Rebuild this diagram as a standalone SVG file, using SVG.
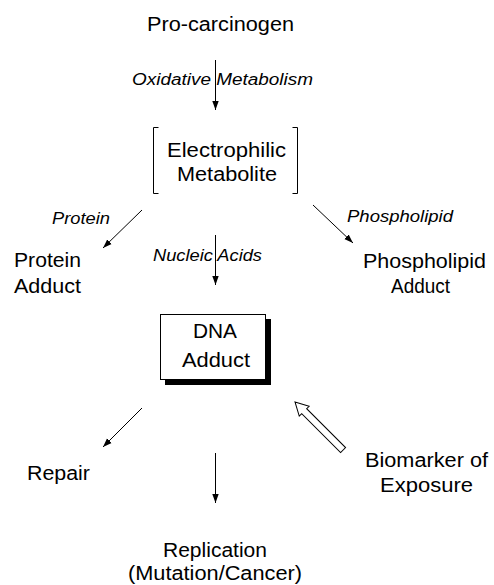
<svg xmlns="http://www.w3.org/2000/svg" width="494" height="585" viewBox="0 0 494 585">
<defs>
<marker id="ah" markerWidth="10" markerHeight="8" refX="9" refY="4" orient="auto" markerUnits="userSpaceOnUse">
<path d="M0,0.8 L9,4 L0,7.2 Z" fill="#000"/>
</marker>
<style>
text{font-family:"Liberation Sans",Arial,Helvetica,sans-serif;fill:#000}
.n{font-size:19.5px}
.l{font-size:16px;font-style:italic}
.c{stroke:#000;stroke-width:1;fill:none;marker-end:url(#ah)}
</style>
</defs>
<rect width="494" height="585" fill="#fff"/>
<g id="procarcinogen"><text class="n" x="147" y="31" textLength="147" lengthAdjust="spacingAndGlyphs">Pro-carcinogen</text></g>
<g id="electrophilic">
<path d="M158.5,127.5 H153.5 V193.5 H158.5 M292.5,127.5 H297.5 V193.5 H292.5" stroke="#000" stroke-width="1" fill="none"/>
<text class="n" x="167" y="157" textLength="119" lengthAdjust="spacingAndGlyphs">Electrophilic</text>
<text class="n" x="177" y="181" textLength="100" lengthAdjust="spacingAndGlyphs">Metabolite</text>
</g>
<g id="protein-adduct">
<text class="n" x="14" y="267" textLength="67" lengthAdjust="spacingAndGlyphs">Protein</text>
<text class="n" x="14" y="293" textLength="67" lengthAdjust="spacingAndGlyphs">Adduct</text>
</g>
<g id="phospholipid-adduct">
<text class="n" x="363" y="268" textLength="123" lengthAdjust="spacingAndGlyphs">Phospholipid</text>
<text class="n" x="391" y="293" textLength="59" lengthAdjust="spacingAndGlyphs">Adduct</text>
</g>
<g id="dna-adduct">
<rect x="165" y="319" width="106" height="66" fill="#000"/>
<rect x="160.5" y="314.5" width="105" height="65" fill="#fff" stroke="#000" stroke-width="1"/>
<text class="n" x="193" y="338" textLength="44" lengthAdjust="spacingAndGlyphs">DNA</text>
<text class="n" x="182" y="367" textLength="68" lengthAdjust="spacingAndGlyphs">Adduct</text>
</g>
<g id="repair"><text class="n" x="27" y="480" textLength="63" lengthAdjust="spacingAndGlyphs">Repair</text></g>
<g id="replication">
<text class="n" x="163" y="557" textLength="104" lengthAdjust="spacingAndGlyphs">Replication</text>
<text class="n" x="128" y="580" textLength="174" lengthAdjust="spacingAndGlyphs">(Mutation/Cancer)</text>
</g>
<g id="biomarker">
<text class="n" x="365" y="467" textLength="123" lengthAdjust="spacingAndGlyphs">Biomarker of</text>
<text class="n" x="380" y="492" textLength="93" lengthAdjust="spacingAndGlyphs">Exposure</text>
</g>
<g id="connectors">
<line class="c" x1="215.5" y1="60" x2="215.5" y2="110"/>
<line class="c" x1="142" y1="210" x2="103" y2="248"/>
<line class="c" x1="313" y1="205" x2="353" y2="243"/>
<line class="c" x1="215.5" y1="235" x2="215.5" y2="285"/>
<line class="c" x1="142" y1="408" x2="103" y2="447"/>
<line class="c" x1="215.5" y1="453" x2="215.5" y2="503"/>
<polygon points="0,0 13,-7 13,-3.5 68,-3.5 68,3.5 13,3.5 13,7" transform="translate(295,402) rotate(45)" fill="#fff" stroke="#000" stroke-width="1"/>
<text class="l" x="132" y="85" textLength="181" lengthAdjust="spacingAndGlyphs">Oxidative Metabolism</text>
<text class="l" x="52" y="224" textLength="58" lengthAdjust="spacingAndGlyphs">Protein</text>
<text class="l" x="347" y="222" textLength="106" lengthAdjust="spacingAndGlyphs">Phospholipid</text>
<text class="l" x="153" y="261" textLength="109" lengthAdjust="spacingAndGlyphs">Nucleic Acids</text>
</g>
</svg>
